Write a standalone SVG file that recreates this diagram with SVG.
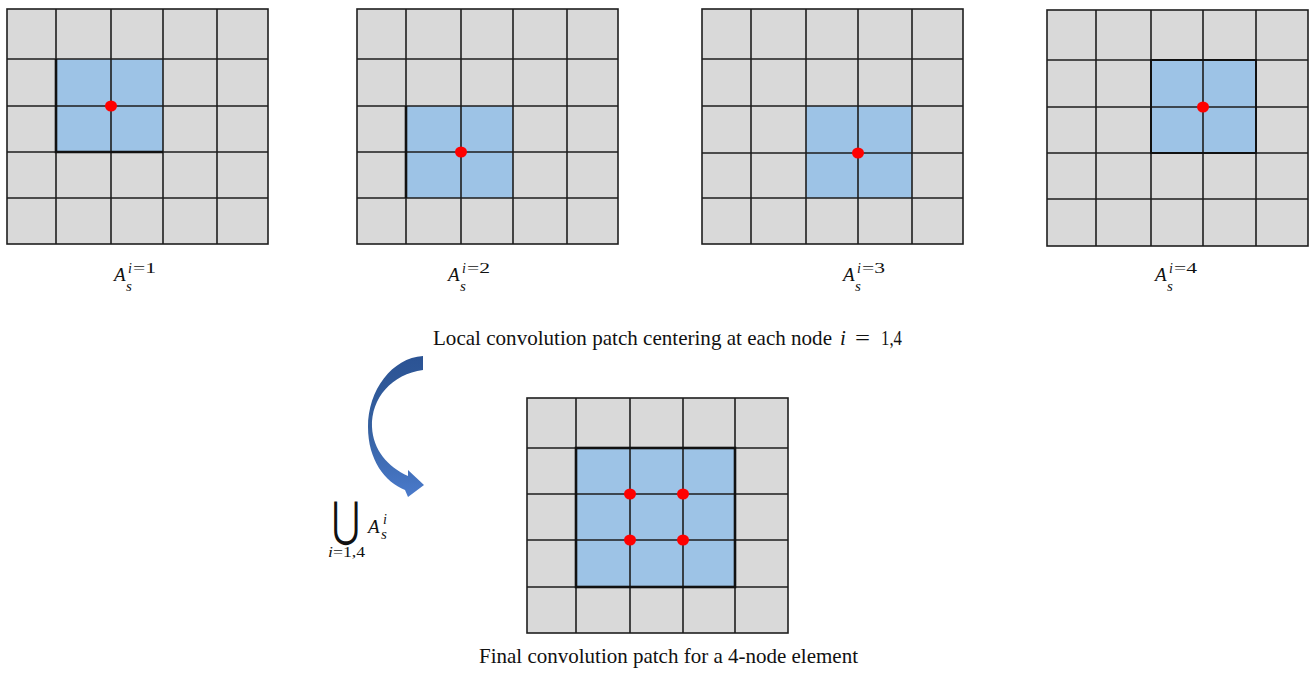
<svg xmlns="http://www.w3.org/2000/svg" width="1310" height="681" viewBox="0 0 1310 681">
<style>
.bg{fill:#D9D9D9;stroke:#1e1e1e;stroke-width:1.6}
.patch{fill:#9DC3E6;stroke:none}
.gl{fill:none;stroke:#1e1e1e;stroke-width:1.6}
.pb{fill:none;stroke:#111;stroke-width:2.6}
.dot{fill:#FF0000}
.cap{font-family:"Liberation Serif","Times New Roman",serif;font-size:21px;fill:#111}
.m{font-family:"Liberation Serif","Times New Roman",serif;fill:#111}
.it{font-style:italic}
</style>
<defs>
<linearGradient id="ag" x1="0" y1="0" x2="0" y2="1">
<stop offset="0" stop-color="#2B5394"/>
<stop offset="0.5" stop-color="#35609F"/>
<stop offset="1" stop-color="#4A7ACB"/>
</linearGradient>
</defs>

<g id="grid1">
<rect class="bg" x="7" y="9" width="261" height="235"/>
<rect class="patch" x="56" y="59" width="107" height="93"/>
<path class="gl" d="M56,9V244M111,9V244M163,9V244M217,9V244M7,59H268M7,106H268M7,152H268M7,198H268"/>
<path class="pb" d="M56,59V152H163"/>
<ellipse class="dot" cx="111" cy="106" rx="6" ry="5.5"/>
</g>

<g id="grid2">
<rect class="bg" x="357" y="9" width="261" height="235"/>
<rect class="patch" x="406" y="106" width="107" height="92"/>
<path class="gl" d="M406,9V244M461,9V244M513,9V244M567,9V244M357,59H618M357,106H618M357,152H618M357,198H618"/>
<path class="pb" d="M406,106V198"/>
<ellipse class="dot" cx="461" cy="152" rx="6" ry="5.5"/>
</g>

<g id="grid3">
<rect class="bg" x="702" y="9" width="261" height="235"/>
<rect class="patch" x="806" y="106" width="106" height="92"/>
<path class="gl" d="M751,9V244M806,9V244M858,9V244M912,9V244M702,59H963M702,106H963M702,153H963M702,198H963"/>
<ellipse class="dot" cx="858" cy="153" rx="6" ry="5.5"/>
</g>

<g id="grid4">
<rect class="bg" x="1047" y="10" width="261" height="236"/>
<rect class="patch" x="1151" y="60" width="105" height="93"/>
<path class="gl" d="M1096,10V246M1151,10V246M1203,10V246M1256,10V246M1047,60H1308M1047,107H1308M1047,153H1308M1047,199H1308"/>
<rect class="pb" x="1151" y="60" width="105" height="93" style="stroke-width:2"/>
<ellipse class="dot" cx="1203" cy="107" rx="6" ry="5.5"/>
</g>

<g id="grid5">
<rect class="bg" x="527" y="398" width="261" height="235"/>
<rect class="patch" x="576" y="448" width="159" height="139"/>
<path class="gl" d="M576,398V633M630,398V633M683,398V633M735,398V633M527,448H788M527,494H788M527,540H788M527,587H788"/>
<rect class="pb" x="576" y="448" width="159" height="139"/>
<ellipse class="dot" cx="630" cy="494" rx="6" ry="5.5"/>
<ellipse class="dot" cx="683" cy="494" rx="6" ry="5.5"/>
<ellipse class="dot" cx="630" cy="540" rx="6" ry="5.5"/>
<ellipse class="dot" cx="683" cy="540" rx="6" ry="5.5"/>
</g>

<g id="label1" class="m">
<text x="114" y="281" font-size="19" class="it">A</text>
<text x="126" y="291" font-size="15" class="it">s</text>
<text x="128" y="273" font-size="14" class="it">i</text>
<text x="133" y="273" font-size="14" textLength="23" lengthAdjust="spacingAndGlyphs">=1</text>
</g>
<g id="label2" class="m">
<text x="448" y="281" font-size="19" class="it">A</text>
<text x="460" y="291" font-size="15" class="it">s</text>
<text x="462" y="273" font-size="14" class="it">i</text>
<text x="467" y="273" font-size="14" textLength="23" lengthAdjust="spacingAndGlyphs">=2</text>
</g>
<g id="label3" class="m">
<text x="843" y="281" font-size="19" class="it">A</text>
<text x="855" y="291" font-size="15" class="it">s</text>
<text x="857" y="273" font-size="14" class="it">i</text>
<text x="862" y="273" font-size="14" textLength="23" lengthAdjust="spacingAndGlyphs">=3</text>
</g>
<g id="label4" class="m">
<text x="1155" y="281" font-size="19" class="it">A</text>
<text x="1167" y="291" font-size="15" class="it">s</text>
<text x="1169" y="273" font-size="14" class="it">i</text>
<text x="1174" y="273" font-size="14" textLength="23" lengthAdjust="spacingAndGlyphs">=4</text>
</g>

<g id="title">
<text class="cap" x="433" y="345" textLength="399" lengthAdjust="spacingAndGlyphs">Local convolution patch centering at each node</text>
<text class="cap it" x="840" y="345">i</text>
<text class="cap" x="855" y="345" textLength="15" lengthAdjust="spacingAndGlyphs">=</text>
<text class="cap" x="881" y="345" textLength="21" lengthAdjust="spacingAndGlyphs">1,4</text>
</g>

<g id="connectors">
<path id="curved-arrow" fill="url(#ag)" d="M423,356 C392,358 368,390 368,427 C368,460 385,482 405,490 L408,497 L424,485 L408,470 L408,476 C388,467 373,450 372,427 C371,398 392,374 423,370 Z"/>
</g>

<g id="union" class="m">
<text transform="translate(332,536) scale(1,1.41)" font-size="34" font-family="DejaVu Sans, sans-serif">⋃</text>
<text x="368" y="533" font-size="19" class="it">A</text>
<text x="381" y="539" font-size="15" class="it">s</text>
<text x="383" y="524" font-size="14" class="it">i</text>
<text x="328" y="557" font-size="14" textLength="37" lengthAdjust="spacingAndGlyphs"><tspan class="it">i</tspan>=1,4</text>
</g>

<g id="bottom-caption">
<text class="cap" x="479" y="663" textLength="379" lengthAdjust="spacingAndGlyphs">Final convolution patch for a 4-node element</text>
</g>
</svg>
